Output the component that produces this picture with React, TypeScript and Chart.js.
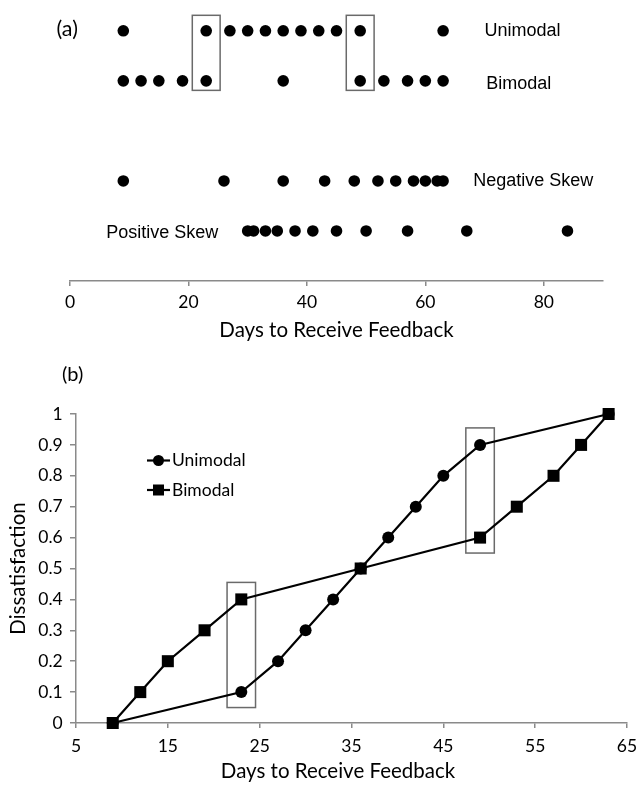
import React, { useEffect, useRef } from 'react';
import { Chart, registerables } from 'chart.js';

Chart.register(...registerables);

// ---------- data ----------
const distributionNames = ['Unimodal', 'Bimodal', 'Negative Skew', 'Positive Skew'];
const distributionRows = [5, 4, 2, 1];
const unimodalDays = [9, 23, 27, 30, 33, 36, 39, 42, 45, 49, 63];
const bimodalDays = [9, 12, 15, 19, 23, 36, 49, 53, 57, 60, 63];
const negativeSkewDays = [9, 26, 36, 43, 48, 52, 55, 58, 60, 62, 63];
const positiveSkewDays = [30, 31, 33, 35, 38, 41, 45, 50, 57, 67, 84];
const dissatisfaction = [0, 0.1, 0.2, 0.3, 0.4, 0.5, 0.6, 0.7, 0.8, 0.9, 1];
const highlightDays = [23, 49];
const xTicksA = [0, 20, 40, 60, 80];
const xTicksB = [5, 15, 25, 35, 45, 55, 65];
const yTicksB = [0, 0.1, 0.2, 0.3, 0.4, 0.5, 0.6, 0.7, 0.8, 0.9, 1];

const AXIS_COLOR = '#8a8a8a';
const BOX_COLOR = '#6a6a6a';
const TICK_FONT = { family: 'Lato', size: 17.5 };
const TITLE_FONT = { family: 'Lato', size: 20.5 };

const panelAPlugin = {
  id: 'panelA',
  beforeDatasetsDraw(chart: any) {
    const { ctx } = chart;
    const x = chart.scales.x;
    const y = chart.scales.y;
    ctx.save();
    ctx.strokeStyle = BOX_COLOR;
    ctx.lineWidth = 1.5;
    highlightDays.forEach((d) => {
      const l = x.getPixelForValue(d - 2.35);
      const r = x.getPixelForValue(d + 2.35);
      const t = y.getPixelForValue(distributionRows[0] + 0.31);
      const b = y.getPixelForValue(distributionRows[1] - 0.19);
      ctx.strokeRect(l, t, r - l, b - t);
    });
    ctx.restore();
  },
  afterDatasetsDraw(chart: any) {
    const { ctx } = chart;
    const x = chart.scales.x;
    const y = chart.scales.y;
    ctx.save();
    ctx.fillStyle = '#000';
    ctx.textBaseline = 'middle';
    ctx.textAlign = 'left';
    ctx.font = '18px "Liberation Sans", Arial, sans-serif';
    const anchorX = [70, 70.3, 68.1, 6.1];
    const offY = [0.5, 3.5, 0, 2.5];
    distributionNames.forEach((name, i) => {
      ctx.fillText(name, x.getPixelForValue(anchorX[i]), y.getPixelForValue(distributionRows[i]) + offY[i]);
    });
    ctx.font = '21.5px Lato';
    ctx.fillText('(a)', 56.5, 29);
    ctx.restore();
  },
};

const panelBPlugin = {
  id: 'panelB',
  beforeDatasetsDraw(chart: any) {
    const { ctx } = chart;
    const x = chart.scales.x;
    const y = chart.scales.y;
    ctx.save();
    ctx.strokeStyle = BOX_COLOR;
    ctx.lineWidth = 1.5;
    highlightDays.forEach((d) => {
      const ys = [dissatisfaction[unimodalDays.indexOf(d)], dissatisfaction[bimodalDays.indexOf(d)]];
      const lo = Math.min(...ys) - 0.05;
      const hi = Math.max(...ys) + 0.055;
      const l = x.getPixelForValue(d - 1.55);
      const r = x.getPixelForValue(d + 1.55);
      const t = y.getPixelForValue(hi);
      const b = y.getPixelForValue(lo);
      ctx.strokeRect(l, t, r - l, b - t);
    });
    ctx.restore();
  },
  afterDatasetsDraw(chart: any) {
    const { ctx } = chart;
    ctx.save();
    ctx.fillStyle = '#000';
    ctx.strokeStyle = '#000';
    // legend
    const legendY = [115.5, 145];
    ctx.lineWidth = 2.2;
    legendY.forEach((ly, i) => {
      ctx.beginPath();
      ctx.moveTo(147, ly);
      ctx.lineTo(170, ly);
      ctx.stroke();
      if (i === 0) {
        ctx.beginPath();
        ctx.arc(158.5, ly, 5.5, 0, Math.PI * 2);
        ctx.fill();
      } else {
        ctx.fillRect(158.5 - 5.5, ly - 5.5, 11, 11);
      }
    });
    ctx.font = '17.5px Lato';
    ctx.textBaseline = 'middle';
    ctx.textAlign = 'left';
    ctx.fillText('Unimodal', 172, legendY[0]);
    ctx.fillText('Bimodal', 172, legendY[1]);
    // panel label
    ctx.font = '20px Lato';
    ctx.fillText('(b)', 62, 30);
    // x-axis title
    ctx.font = '20.5px Lato';
    ctx.textAlign = 'center';
    ctx.fillText('Days to Receive Feedback', 338, 426.7);
    ctx.restore();
  },
};

function axisGrid(len: number) {
  return {
    display: true,
    drawOnChartArea: false,
    drawTicks: true,
    tickLength: len,
    color: AXIS_COLOR,
    lineWidth: 1.5,
  };
}

export default function App() {
  const refA = useRef<HTMLCanvasElement | null>(null);
  const refB = useRef<HTMLCanvasElement | null>(null);

  useEffect(() => {
    Chart.defaults.font.family = 'Lato';
    Chart.defaults.color = '#000';

    const dotSeries = [unimodalDays, bimodalDays, negativeSkewDays, positiveSkewDays];
    const chartA = new Chart(refA.current as HTMLCanvasElement, {
      type: 'scatter',
      data: {
        datasets: dotSeries.map((days, i) => ({
          label: distributionNames[i],
          data: days.map((d) => ({ x: d, y: distributionRows[i] })),
          pointRadius: 5.8,
          pointBackgroundColor: '#000',
          pointBorderWidth: 0,
          showLine: false,
          clip: false as any,
        })),
      },
      options: {
        responsive: false,
        animation: false,
        events: [],
        layout: { padding: { left: 70, right: 34, top: 2, bottom: 0 } },
        plugins: { legend: { display: false }, tooltip: { enabled: false } },
        scales: {
          x: {
            type: 'linear',
            min: 0,
            max: 90,
            afterBuildTicks: (s: any) => {
              s.ticks = xTicksA.map((v) => ({ value: v }));
            },
            afterFit: (s: any) => {
              s.height = 64;
              s.paddingLeft = 0;
              s.paddingRight = 0;
            },
            ticks: { font: TICK_FONT, color: '#000', padding: 6.2, maxRotation: 0 },
            grid: axisGrid(5) as any,
            border: { display: true, color: AXIS_COLOR, width: 1.5 },
            title: {
              display: true,
              text: 'Days to Receive Feedback',
              font: TITLE_FONT,
              color: '#000',
              padding: { top: 0, bottom: 2 },
            },
          },
          y: { type: 'linear', min: 0, max: 5.5, display: false },
        },
      },
      plugins: [panelAPlugin],
    });

    const lineSeries = [unimodalDays, bimodalDays];
    const styles = ['circle', 'rect'];
    const radii = [6, 8.5];
    const chartB = new Chart(refB.current as HTMLCanvasElement, {
      type: 'scatter',
      data: {
        datasets: lineSeries.map((days, i) => ({
          label: distributionNames[i],
          data: days.map((d, j) => ({ x: d, y: dissatisfaction[j] })),
          showLine: true,
          borderColor: '#000',
          borderWidth: 2.2,
          pointStyle: styles[i] as any,
          pointRadius: radii[i],
          pointBackgroundColor: '#000',
          pointBorderWidth: 0,
          clip: false as any,
        })),
      },
      options: {
        responsive: false,
        animation: false,
        events: [],
        layout: { padding: { left: 0, right: 10, top: 69, bottom: 0 } },
        plugins: { legend: { display: false }, tooltip: { enabled: false } },
        scales: {
          x: {
            type: 'linear',
            min: 5,
            max: 65,
            afterBuildTicks: (s: any) => {
              s.ticks = xTicksB.map((v) => ({ value: v }));
            },
            afterFit: (s: any) => {
              s.height = 62;
              s.paddingLeft = 0;
              s.paddingRight = 0;
            },
            ticks: { font: TICK_FONT, color: '#000', padding: 8.2, maxRotation: 0 },
            grid: axisGrid(5) as any,
            border: { display: true, color: AXIS_COLOR, width: 1.5 },
          },
          y: {
            type: 'linear',
            min: 0,
            max: 1,
            afterBuildTicks: (s: any) => {
              s.ticks = yTicksB.map((v) => ({ value: v }));
            },
            afterFit: (s: any) => {
              s.width = 76;
              s.paddingTop = 0;
              s.paddingBottom = 0;
            },
            ticks: {
              font: TICK_FONT,
              color: '#000',
              padding: 7.3,
              callback: (v: any) => String(v),
            },
            grid: axisGrid(6) as any,
            border: { display: true, color: AXIS_COLOR, width: 1.5 },
            title: {
              display: true,
              text: 'Dissatisfaction',
              font: TITLE_FONT,
              color: '#000',
              padding: { top: 5.7, bottom: 0 },
            },
          },
        },
      },
      plugins: [panelBPlugin],
    });

    return () => {
      chartA.destroy();
      chartB.destroy();
    };
  }, []);

  return (
    <div style={{ position: 'absolute', left: 0, top: 0, width: 637, height: 785, background: '#fff' }}>
      <canvas ref={refA} width={637} height={345} style={{ display: 'block', position: 'absolute', left: 0, top: 0 }} />
      <canvas ref={refB} width={637} height={440} style={{ display: 'block', position: 'absolute', left: 0, top: 345 }} />
    </div>
  );
}
